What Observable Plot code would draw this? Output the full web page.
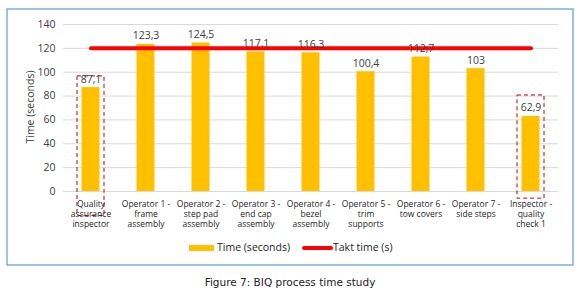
<!DOCTYPE html>
<html><head><meta charset="utf-8">
<script src="https://cdn.jsdelivr.net/npm/d3@7"></script>
<script src="https://cdn.jsdelivr.net/npm/@observablehq/plot@0.6"></script>
<style>
body{margin:0;background:#fff;}
#chart{position:relative;width:580px;height:298px;}
</style>
</head><body><div id="chart"></div>
<script>
const categories = [
  "Quality\nassurance\ninspector",
  "Operator 1 -\nframe\nassembly",
  "Operator 2 -\nstep pad\nassembly",
  "Operator 3 -\nend cap\nassembly",
  "Operator 4 -\nbezel\nassembly",
  "Operator 5 -\ntrim\nsupports",
  "Operator 6 -\ntow covers",
  "Operator 7 -\nside steps",
  "Inspector -\nquality\ncheck 1"
];
const times = [87.1, 123.3, 124.5, 117.1, 116.3, 100.4, 112.7, 103, 62.9];
const taktTime = 120;
const yTicks = [0, 20, 40, 60, 80, 100, 120, 140];
const highlighted = [
  {cat: categories[0], lo: -20.5, hi: 96.5},
  {cat: categories[8], lo: -6, hi: 80.5}
];

const data = categories.map((c, i) => ({cat: c, time: times[i], takt: taktTime}));
const fmt = v => String(v).replace(".", ",");

const plot = Plot.plot({
  width: 580,
  height: 298,
  marginLeft: 63,
  marginRight: 22,
  marginTop: 24,
  marginBottom: 107,
  style: {fontFamily: "'Open Sans', sans-serif", background: "transparent", overflow: "visible"},
  x: {type: "band", domain: categories, padding: 0, label: null},
  y: {domain: [0, 140], ticks: yTicks, label: null},
  marks: [
    Plot.gridY(yTicks, {stroke: "#d9d9d9", strokeOpacity: 1, strokeWidth: 1}),
    Plot.barY(data, {x: "cat", y: "time", fill: "#FFC000", insetLeft: 18.5, insetRight: 18.5}),
    Plot.line(data, {x: "cat", y: "takt", stroke: "#FF0000", strokeWidth: 4, strokeLinecap: "round"}),
    Plot.text(data, {x: "cat", y: "time", text: d => fmt(d.time), lineAnchor: "bottom", dy: -5, fontSize: 10.5, fill: "#404040"}),
    Plot.barY(highlighted, {x: "cat", y1: "lo", y2: "hi", fill: "none", stroke: "#C00000", strokeWidth: 1, strokeDasharray: "4,3", insetLeft: 14, insetRight: 14}),
    Plot.axisY(yTicks, {tickSize: 0, tickPadding: 8, fontSize: 10.5, fill: "#404040", label: null}),
    Plot.axisX({tickSize: 0, tickPadding: 8, fontSize: 8.5, lineHeight: 1.2, fill: "#262626", label: null})
  ]
});

const svg = d3.select(plot);
// outer border
svg.insert("rect", ":first-child").attr("x", 7).attr("y", 9).attr("width", 566).attr("height", 256)
  .attr("fill", "white").attr("stroke", "#5B9BD5").attr("stroke-width", 1.2);
// y axis title
svg.append("text").attr("transform", "translate(31,107) rotate(-90)").attr("text-anchor", "middle")
  .attr("dominant-baseline", "middle").attr("font-size", 10.5).attr("fill", "#404040")
  .attr("font-family", "'Open Sans', sans-serif").text("Time (seconds)");
// legend
const lg = svg.append("g").attr("font-family", "'Open Sans', sans-serif").attr("font-size", 10.5).attr("fill", "#262626").attr("text-anchor", "start");
lg.append("rect").attr("x", 189).attr("y", 245).attr("width", 25).attr("height", 6).attr("fill", "#FFC000");
lg.append("text").attr("x", 217).attr("y", 248).attr("text-anchor", "start").attr("dominant-baseline", "middle").text("Time (seconds)");
lg.append("line").attr("x1", 304).attr("x2", 331).attr("y1", 248).attr("y2", 248).attr("stroke", "#FF0000").attr("stroke-width", 4).attr("stroke-linecap", "round");
lg.append("text").attr("x", 333).attr("y", 248).attr("text-anchor", "start").attr("dominant-baseline", "middle").text("Takt time (s)");
// caption
svg.append("text").attr("x", 290).attr("y", 283).attr("text-anchor", "middle").attr("dominant-baseline", "middle")
  .attr("font-family", "'DejaVu Sans', sans-serif").attr("font-size", 10.5).attr("fill", "#222").text("Figure 7: BIQ process time study");

document.getElementById("chart").appendChild(plot);
</script>
</body></html>
